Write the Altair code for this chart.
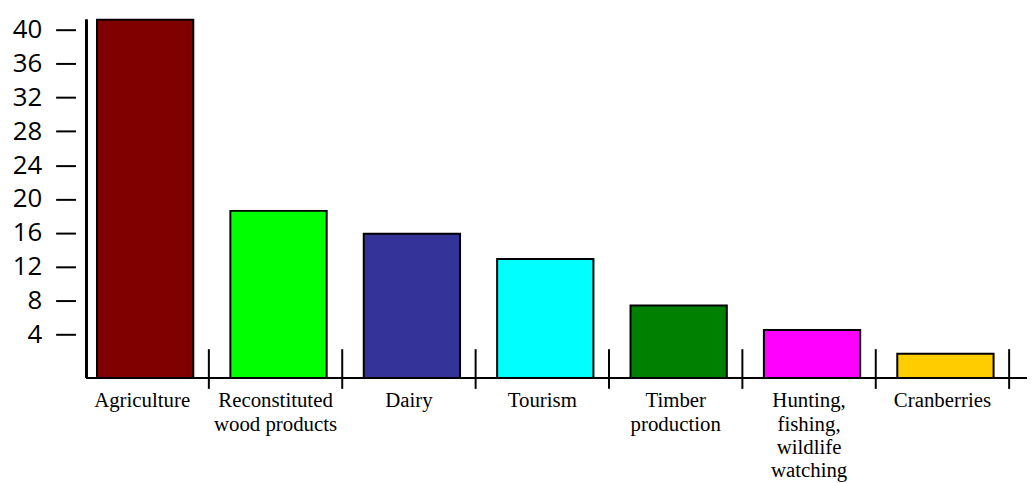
import altair as alt
import pandas as pd

categories = ["Agriculture", "Reconstituted wood products", "Dairy", "Tourism",
              "Timber production", "Hunting, fishing, wildlife watching", "Cranberries"]
label_lines = ["Agriculture", "Reconstituted|wood products", "Dairy", "Tourism",
               "Timber|production", "Hunting,|fishing,|wildlife|watching", "Cranberries"]
values = [41.2, 18.6, 15.9, 12.9, 7.4, 4.5, 1.7]
colors = ["#800000", "#00ff00", "#333399", "#00ffff", "#008000", "#ff00ff", "#ffcc00"]
y_ticks = [4, 8, 12, 16, 20, 24, 28, 32, 36, 40]
Y_MIN, Y_MAX = -1.16, 41.2

PLOT_W = 941
PLOT_H = 361
P_IN = 0.278
P_OUT = P_IN / 2
STEP = PLOT_W / 7
GAP_HALF = P_IN * STEP / 2

df = pd.DataFrame({"category": categories, "label": label_lines, "value": values})

xscale = alt.Scale(paddingInner=P_IN, paddingOuter=P_OUT)
yscale = alt.Scale(domain=[Y_MIN, Y_MAX], nice=False, zero=False)

x_axis = alt.Axis(domain=False, ticks=False, labelAngle=0,
                  labelExpr="split(datum.label, '|')",
                  labelFont="Liberation Serif", labelFontSize=21,
                  labelLineHeight=23.5, labelColor="black",
                  labelBaseline="top", labelPadding=12,
                  labelLimit=400, labelOverlap=False)

bars = alt.Chart(df).mark_bar(stroke="black", strokeWidth=2, xOffset=3).encode(
    x=alt.X("label:N", sort=label_lines, scale=xscale, title=None, axis=x_axis),
    y=alt.Y("value:Q", scale=yscale, title=None,
            axis=alt.Axis(values=y_ticks, grid=False, domain=False,
                          tickSize=20, tickWidth=2, tickColor="black",
                          labelFont="Open Sans", labelFontSize=26,
                          labelColor="black", labelPadding=14)),
    y2=alt.datum(Y_MIN),
    color=alt.Color("label:N", sort=label_lines,
                    scale=alt.Scale(domain=label_lines, range=colors), legend=None),
)

separators = alt.Chart(df).mark_rule(color="black", strokeWidth=2, xOffset=GAP_HALF).encode(
    x=alt.X("label:N", sort=label_lines, bandPosition=1, title=None, axis=x_axis),
    y=alt.value(332),
    y2=alt.value(372),
)

y_line = alt.Chart(df).mark_rule(color="black", strokeWidth=2).encode(
    x=alt.value(11), y=alt.value(0), y2=alt.value(PLOT_H)
)
x_line = alt.Chart(df).mark_rule(color="black", strokeWidth=2).encode(
    x=alt.value(11), x2=alt.value(PLOT_W + 20), y=alt.value(PLOT_H)
)

chart = alt.layer(bars, separators, y_line, x_line).properties(
    width=PLOT_W, height=PLOT_H,
    autosize=alt.AutoSizeParams(type="none"),
    padding={"left": 68, "top": 10, "right": 18, "bottom": 104},
    background="white",
).configure_view(stroke=None)

chart.save("out.html", embed_options={"renderer": "svg", "actions": False})
